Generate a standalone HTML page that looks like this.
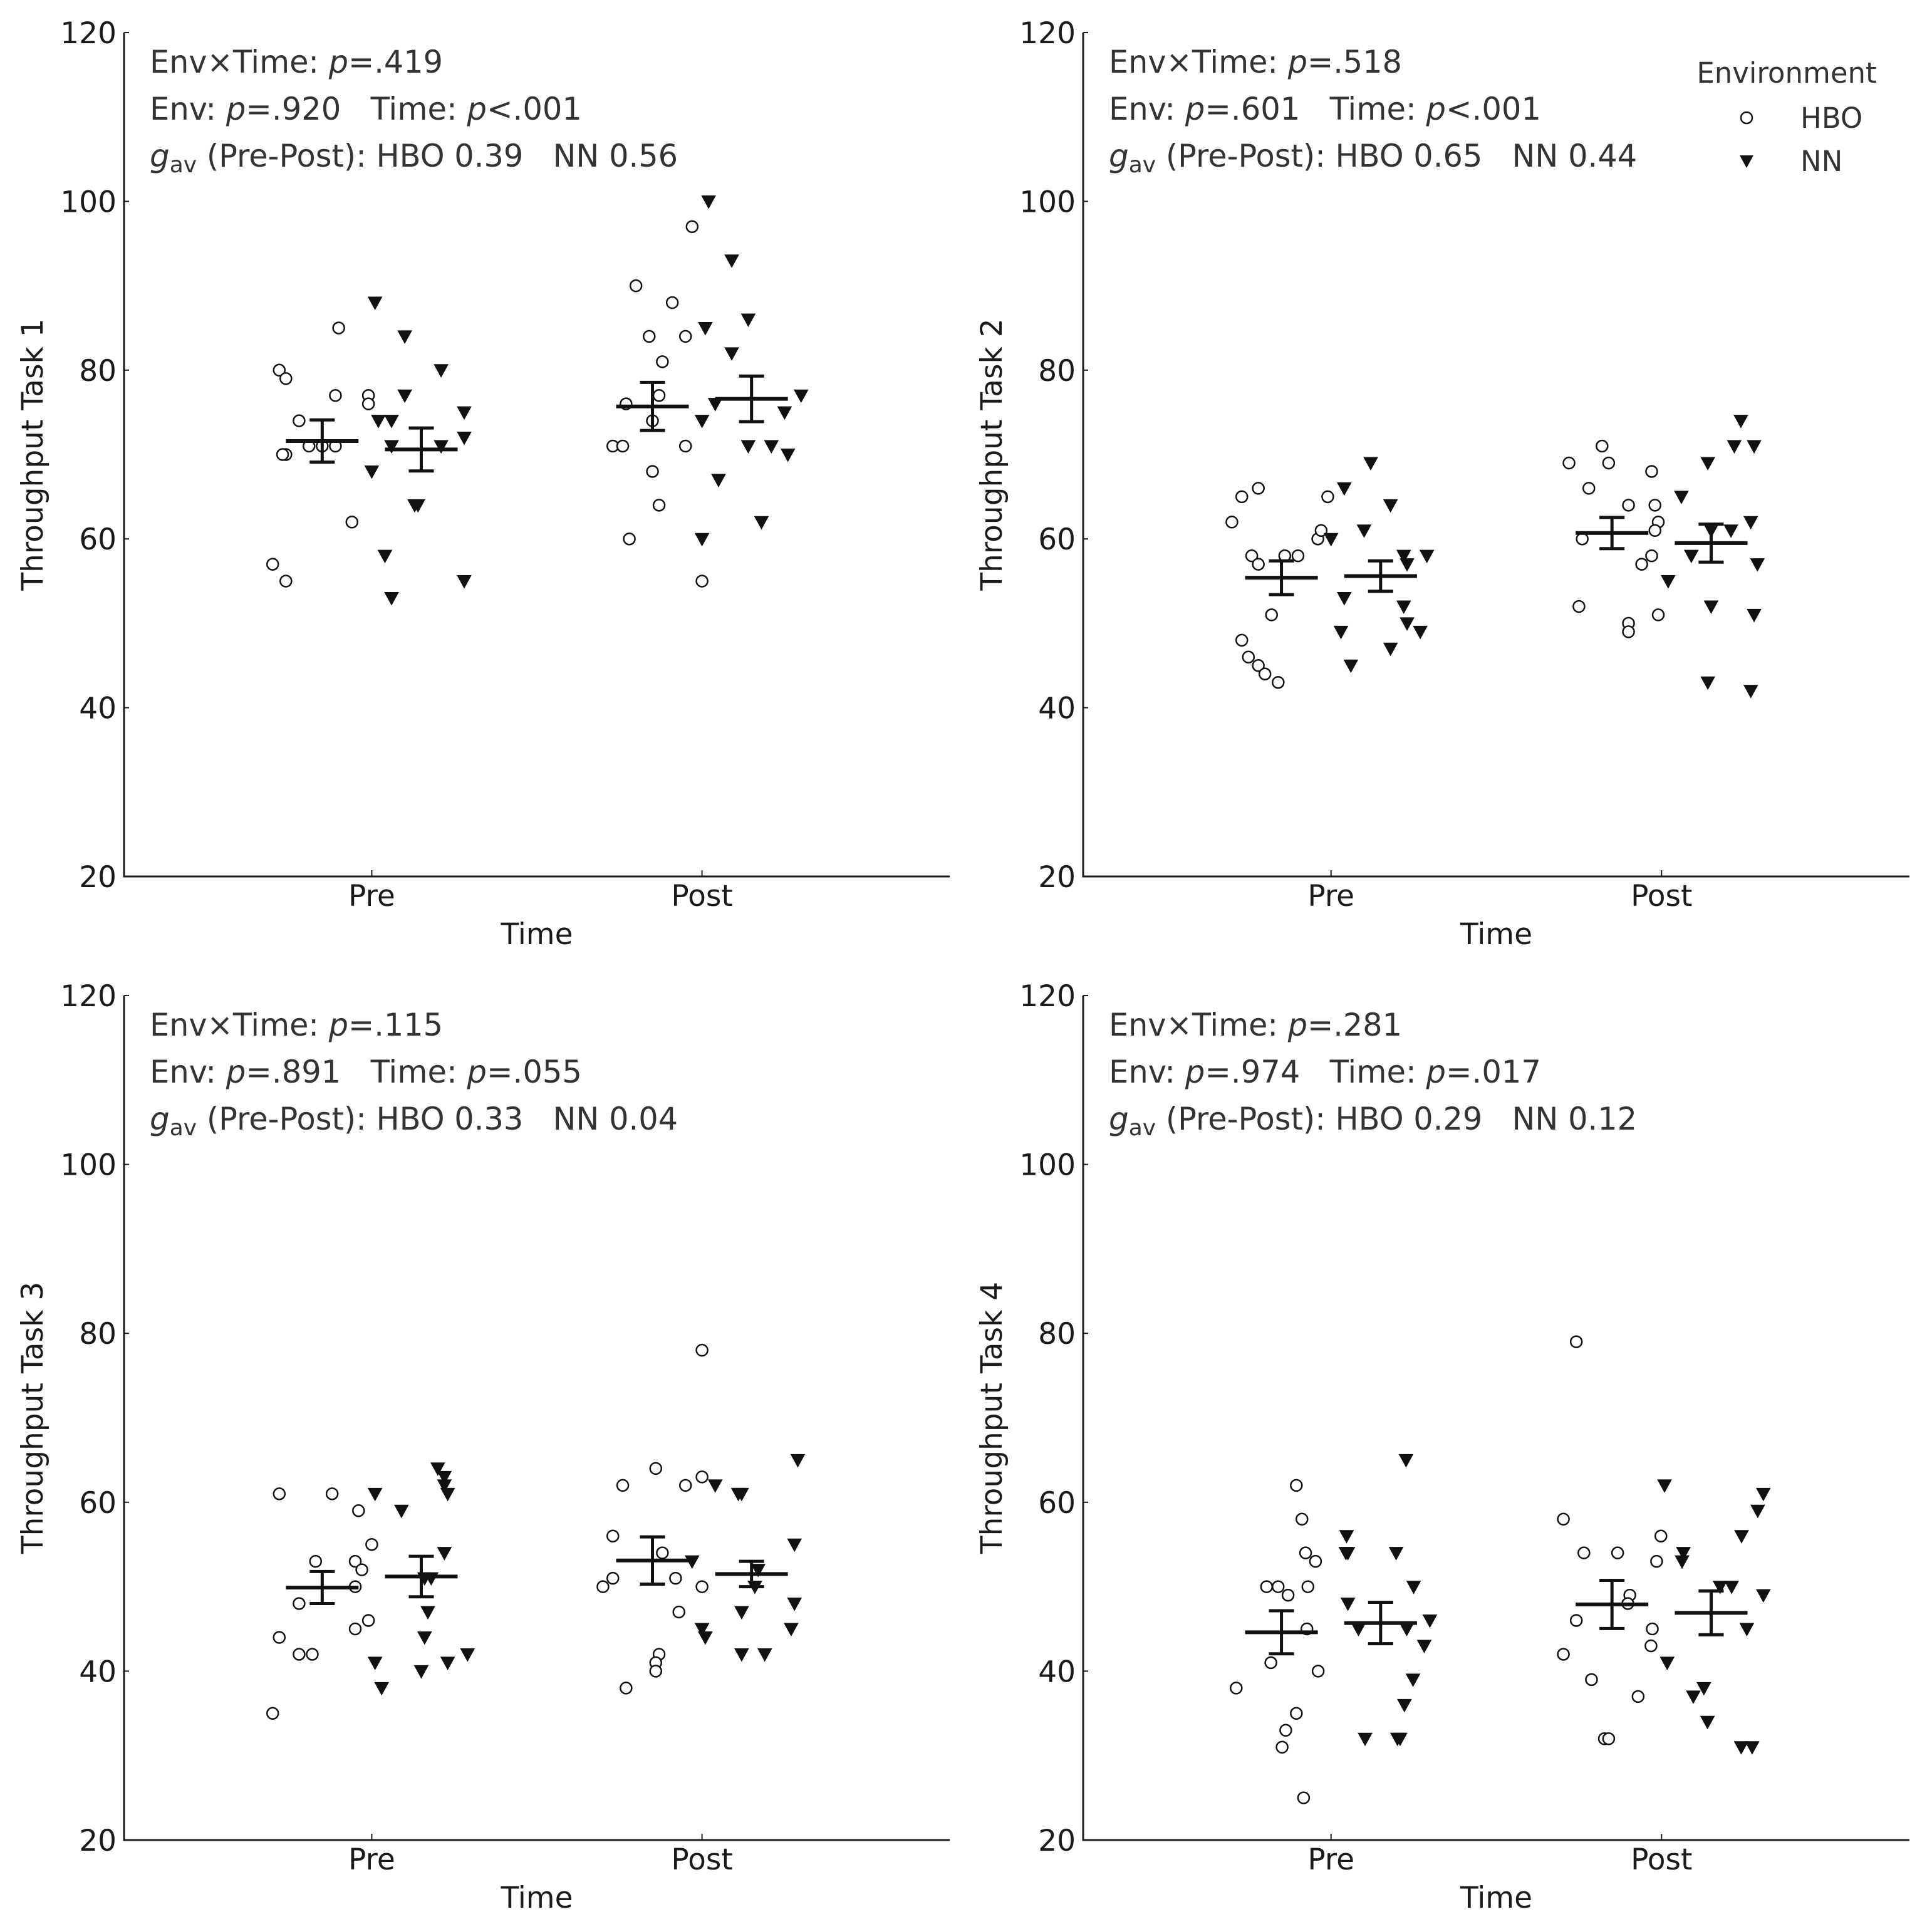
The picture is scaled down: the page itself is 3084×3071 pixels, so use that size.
<!DOCTYPE html>
<html><head><meta charset="utf-8">
<style>
html,body{margin:0;padding:0;background:#fff;}
svg{display:block;font-family:"DejaVu Sans","Liberation Sans",sans-serif;}
</style></head>
<body>
<svg id="fig" width="3084" height="3071" viewBox="0 0 3084 3071" xmlns="http://www.w3.org/2000/svg"></svg>
<script>
// ---------- data ----------
const categories = ["Pre","Post"];
const groups = ["HBO","NN"];
const yTicks = [20,40,60,80,100,120];
const panelTitles = ["Throughput Task 1","Throughput Task 2","Throughput Task 3","Throughput Task 4"];
const annot1 = ["Env×Time: ","Env×Time: ","Env×Time: ","Env×Time: "];
const pInter = [".419",".518",".115",".281"];
const pEnv = [".920",".601",".891",".974"];
const pTime = ["<.001","<.001","=.055","=.017"];
const gHBO = ["0.39","0.65","0.33","0.29"];
const gNN = ["0.56","0.44","0.04","0.12"];
// means order: Pre-HBO, Pre-NN, Post-HBO, Post-NN
const means = [[71.6,70.6,75.7,76.6],[55.4,55.6,60.7,59.5],[49.9,51.2,53.1,51.5],[44.6,45.7,47.9,46.9]];
const sems = [[2.5,2.55,2.85,2.7],[2.0,1.8,1.85,2.25],[1.9,2.4,2.8,1.5],[2.55,2.45,2.85,2.6]];
const t1PreHBO = [80,79,85,74,70,70,71,71,71,77,77,76,62,57,55];
const t1PreHBOj = [-0.28,-0.26,-0.10,-0.22,-0.26,-0.27,-0.19,-0.15,-0.11,-0.11,-0.01,-0.01,-0.06,-0.30,-0.26];
const t1PreNN = [88,84,80,77,74,74,75,72,71,71,68,64,64,58,53,55];
const t1PreNNj = [0.01,0.10,0.21,0.10,0.02,0.06,0.28,0.28,0.06,0.21,0.00,0.13,0.14,0.04,0.06,0.28];
const t1PostHBO = [90,97,88,84,84,81,77,76,74,71,71,71,68,64,60,55];
const t1PostHBOj = [-0.20,-0.03,-0.09,-0.16,-0.05,-0.12,-0.13,-0.23,-0.15,-0.27,-0.24,-0.05,-0.15,-0.13,-0.22,0.00];
const t1PostNN = [100,93,85,86,82,76,74,77,75,71,71,70,67,60,62];
const t1PostNNj = [0.02,0.09,0.01,0.14,0.09,0.04,0.00,0.30,0.25,0.14,0.21,0.26,0.05,0.00,0.18];

const t2PreHBO = [62,65,66,58,57,58,58,51,48,46,45,44,43,65,60,61];
const t2PreHBOj = [-0.30,-0.27,-0.22,-0.24,-0.22,-0.14,-0.10,-0.18,-0.27,-0.25,-0.22,-0.20,-0.16,-0.01,-0.04,-0.03];
const t2PreNN = [69,66,64,61,60,58,58,57,53,52,50,49,49,47,45];
const t2PreNNj = [0.12,0.04,0.18,0.10,0.00,0.22,0.29,0.23,0.04,0.22,0.23,0.03,0.27,0.18,0.06];
const t2PostHBO = [69,71,69,66,68,64,64,62,61,60,58,57,50,49,51,52];
const t2PostHBOj = [-0.28,-0.18,-0.16,-0.22,-0.03,-0.10,-0.02,-0.01,-0.02,-0.24,-0.03,-0.06,-0.10,-0.10,-0.01,-0.25];
const t2PostNN = [74,69,71,71,65,62,58,61,61,57,55,52,51,43,42];
const t2PostNNj = [0.24,0.14,0.22,0.28,0.06,0.27,0.09,0.15,0.21,0.29,0.02,0.15,0.28,0.14,0.27];

const t3PreHBO = [61,61,59,53,53,52,55,50,48,46,45,44,42,42,35];
const t3PreHBOj = [-0.28,-0.12,-0.04,-0.17,-0.05,-0.03,0.00,-0.05,-0.22,-0.01,-0.05,-0.28,-0.22,-0.18,-0.30];
const t3PreNN = [64,63,62,61,61,59,54,51,51,47,44,42,41,41,40,38];
const t3PreNNj = [0.20,0.22,0.22,0.23,0.01,0.09,0.22,0.16,0.18,0.17,0.16,0.29,0.23,0.01,0.15,0.03];
const t3PostHBO = [78,64,62,62,63,56,54,51,51,50,50,47,42,41,40,38];
const t3PostHBOj = [0.00,-0.14,-0.24,-0.05,0.00,-0.27,-0.12,-0.27,-0.08,-0.30,0.00,-0.07,-0.13,-0.14,-0.14,-0.23];
const t3PostNN = [65,62,61,61,55,52,53,50,48,47,45,45,44,42,42];
const t3PostNNj = [0.29,0.04,0.11,0.12,0.28,0.17,-0.03,0.16,0.28,0.12,0.27,0.00,0.01,0.12,0.19];

const t4PreHBO = [62,58,54,53,50,50,50,49,45,40,41,38,35,33,31,25];
const t4PreHBOj = [-0.105,-0.088,-0.077,-0.047,-0.195,-0.160,-0.070,-0.130,-0.073,-0.039,-0.182,-0.287,-0.105,-0.137,-0.148,-0.083];
const t4PreNN = [56,54,54,54,65,50,48,45,45,46,43,39,36,32,32,32];
const t4PreNNj = [0.047,0.051,0.045,0.197,0.227,0.250,0.051,0.083,0.229,0.299,0.282,0.248,0.222,0.103,0.201,0.209];
const t4PostHBO = [79,58,54,54,56,53,49,48,46,45,43,42,39,37,32,32];
const t4PostHBOj = [-0.258,-0.297,-0.235,-0.133,-0.002,-0.015,-0.096,-0.102,-0.258,-0.028,-0.032,-0.297,-0.212,-0.071,-0.173,-0.160];
const t4PostNN = [62,54,53,61,59,56,50,50,49,45,41,38,37,34,31,31];
const t4PostNNj = [0.009,0.066,0.062,0.308,0.291,0.242,0.177,0.212,0.308,0.258,0.017,0.128,0.096,0.139,0.241,0.274];

const pointVals = [[t1PreHBO,t1PreNN,t1PostHBO,t1PostNN],[t2PreHBO,t2PreNN,t2PostHBO,t2PostNN],[t3PreHBO,t3PreNN,t3PostHBO,t3PostNN],[t4PreHBO,t4PreNN,t4PostHBO,t4PostNN]];
const pointJit = [[t1PreHBOj,t1PreNNj,t1PostHBOj,t1PostNNj],[t2PreHBOj,t2PreNNj,t2PostHBOj,t2PostNNj],[t3PreHBOj,t3PreNNj,t3PostHBOj,t3PostNNj],[t4PreHBOj,t4PreNNj,t4PostHBOj,t4PostNNj]];

// ---------- layout ----------
const NS = "http://www.w3.org/2000/svg";
const svg = document.getElementById('fig');
const panelBoxes = [
  {l:198,r:1516,t:52,b:1399},
  {l:1729,r:3048,t:52,b:1399},
  {l:198,r:1516,t:1589,b:2937},
  {l:1729,r:3048,t:1589,b:2937}
];
const XMIN=-0.75, XMAX=1.75, YMIN=20, YMAX=120;
const GROUP_OFF = 0.15;

function mk(tag, attrs, parent){
  const e=document.createElementNS(NS,tag);
  for(const k in attrs) e.setAttribute(k,attrs[k]);
  (parent||svg).appendChild(e);
  return e;
}

panelBoxes.forEach((B,pi)=>{
  const xs = v => B.l + (v-XMIN)/(XMAX-XMIN)*(B.r-B.l);
  const ys = v => B.b - (v-YMIN)/(YMAX-YMIN)*(B.b-B.t);
  const g = mk('g',{});
  
  

  const ax = mk('path',{d:`M${B.l},${B.t} L${B.l},${B.b} L${B.r},${B.b}`,fill:'none',stroke:'#1a1a1a','stroke-width':3},g);
  
  

  yTicks.forEach(t=>{
    const y=ys(t);
    const tk=mk('line',{x1:B.l,x2:B.l+8,y1:y,y2:y,stroke:'#1a1a1a','stroke-width':2},g);
    
    
    const tl=mk('text',{x:B.l-12,y:y+17,'text-anchor':'end','font-size':47,fill:'#1a1a1a'},g);
    tl.textContent=t;
    
    
  });
  categories.forEach((c,ci)=>{
    const x=xs(ci);
    const tk=mk('line',{x1:x,x2:x,y1:B.b,y2:B.b-10,stroke:'#1a1a1a','stroke-width':2},g);
    
    
    const tl=mk('text',{x:x,y:B.b+47,'text-anchor':'middle','font-size':47,fill:'#1a1a1a'},g);
    tl.textContent=c;
    
    
  });
  const xt=mk('text',{x:(B.l+B.r)/2,y:B.b+108,'text-anchor':'middle','font-size':47,fill:'#1a1a1a'},g);
  xt.textContent='Time';
  
  
  const ytx=B.l-130, yty=(B.t+B.b)/2;
  const yt=mk('text',{x:ytx,y:yty,'text-anchor':'middle','font-size':47,fill:'#1a1a1a',transform:`rotate(-90 ${ytx} ${yty})`},g);
  yt.textContent=panelTitles[pi];
  
  

  const ax0=B.l+41;
  const a1=mk('text',{x:ax0,y:B.t+64,'font-size':50,fill:'#333',textLength:468,lengthAdjust:'spacingAndGlyphs'},g);
  a1.innerHTML=`${annot1[pi]}<tspan font-style="italic">p</tspan>=${pInter[pi]}`;
  
  
  const a2=mk('text',{x:ax0,y:B.t+139,'font-size':50,fill:'#333',textLength:690,lengthAdjust:'spacingAndGlyphs'},g);
  a2.innerHTML=`Env: <tspan font-style="italic">p</tspan>=${pEnv[pi]}\u00a0\u00a0\u00a0Time: <tspan font-style="italic">p</tspan>${pTime[pi]}`;
  
  
  const a3=mk('text',{x:ax0,y:B.t+214,'font-size':50,fill:'#333'},g);
  a3.innerHTML=`<tspan font-style="italic">g</tspan><tspan font-size="36" dy="9">av</tspan><tspan dy="-9" textLength="768" lengthAdjust="spacingAndGlyphs"> (Pre-Post): HBO ${gHBO[pi]}\u00a0\u00a0\u00a0NN ${gNN[pi]}</tspan>`;
  
  

  for(let k=0;k<4;k++){
    const ci = k<2?0:1, gi=k%2;
    const vals=pointVals[pi][k], jit=pointJit[pi][k];
    vals.forEach((v,i)=>{
      const x=xs(ci+jit[i]), y=ys(v);
      let m;
      if(gi===0){
        m=mk('circle',{cx:x,cy:y,r:9,fill:'#fff',stroke:'#111','stroke-width':2.5},g);
        
      } else {
        m=mk('path',{d:`M${x-11},${y-9} L${x+11},${y-9} L${x},${y+11} Z`,fill:'#111',stroke:'#111','stroke-width':1},g);
        
      }
      
    });
  }
  for(let k=0;k<4;k++){
    const ci = k<2?0:1, gi=k%2;
    const cx=ci+(gi===0?-GROUP_OFF:GROUP_OFF);
    const m=means[pi][k], s=sems[pi][k];
    const eg=mk('g',{stroke:'#111','stroke-width':5,fill:'none'},g);
    
    
    mk('line',{x1:xs(cx-0.11),x2:xs(cx+0.11),y1:ys(m),y2:ys(m),'stroke-width':6},eg);
    mk('line',{x1:xs(cx),x2:xs(cx),y1:ys(m-s),y2:ys(m+s)},eg);
    mk('line',{x1:xs(cx-0.038),x2:xs(cx+0.038),y1:ys(m+s),y2:ys(m+s)},eg);
    mk('line',{x1:xs(cx-0.038),x2:xs(cx+0.038),y1:ys(m-s),y2:ys(m-s)},eg);
  }
});

const lg=mk('g',{});


const lt=mk('text',{x:2852,y:132,'text-anchor':'middle','font-size':45,fill:'#333'},lg);
lt.textContent='Environment';


const lc=mk('circle',{cx:2788,cy:188,r:9,fill:'#fff',stroke:'#111','stroke-width':2.5},lg);


const lh=mk('text',{x:2874,y:204,'font-size':45,fill:'#333'},lg);
lh.textContent='HBO';


const ln=mk('path',{d:'M2777,248 L2799,248 L2788,268 Z',fill:'#111'},lg);


const lnt=mk('text',{x:2874,y:273,'font-size':45,fill:'#333'},lg);
lnt.textContent='NN';


</script>
</body></html>
